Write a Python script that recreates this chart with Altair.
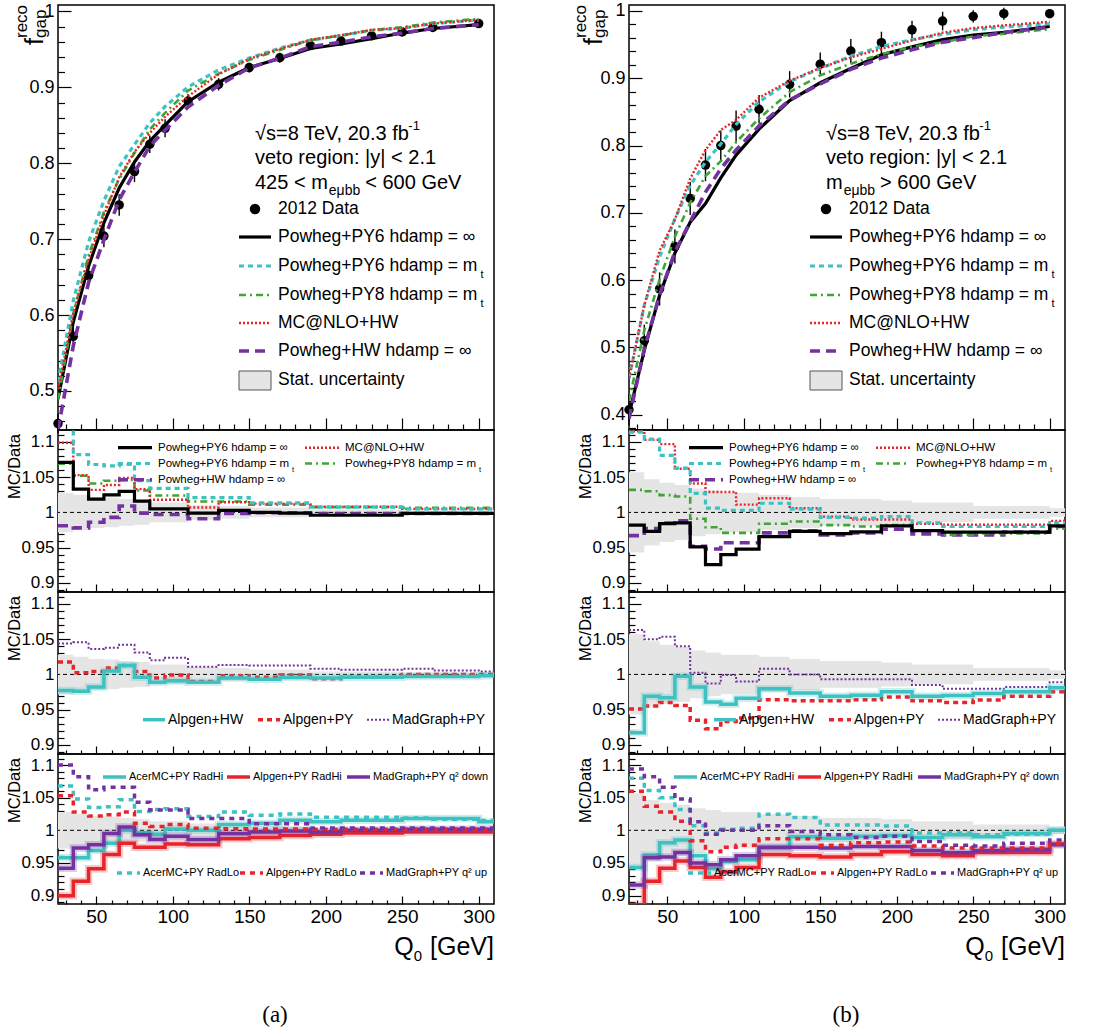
import altair as alt
import pandas as pd

FONT = "Liberation Sans"
SERIF = "Liberation Serif"

# ---------------- data ----------------
Q = [25, 35, 45, 55, 65, 75, 85, 95, 110, 130, 150, 170, 190, 210, 230, 250, 270, 300]
Q_END = 310

# (a) 425 < m_eubb < 600 GeV
data_a = [0.457, 0.572, 0.652, 0.704, 0.745, 0.789, 0.825, 0.846, 0.882, 0.904, 0.926, 0.939, 0.955, 0.961, 0.968, 0.973, 0.979, 0.984]
stat_a = [0.028, 0.025, 0.022, 0.021, 0.019, 0.0175, 0.014, 0.014, 0.0105, 0.009, 0.007, 0.007, 0.004, 0.004, 0.004, 0.003, 0.003, 0.003]
py6_inf_a = [1.071, 1.033, 1.019, 1.025, 1.030, 1.016, 1.005, 1.005, 0.999, 1.003, 1.000, 0.999, 0.996, 0.996, 0.996, 0.9985, 0.9985, 0.9985]
py6_mt_a = [1.12, 1.082, 1.068, 1.066, 1.068, 1.045, 1.034, 1.034, 1.021, 1.021, 1.0135, 1.0135, 1.0075, 1.0075, 1.0075, 1.005, 1.005, 1.005]
py8_mt_a = [1.069, 1.052, 1.041, 1.045, 1.046, 1.031, 1.024, 1.024, 1.0155, 1.0155, 1.011, 1.011, 1.0075, 1.0075, 1.0075, 1.0065, 1.0065, 1.0065]
mcnlo_a = [1.099, 1.053, 1.032, 1.039, 1.049, 1.033, 1.018, 1.018, 1.007, 1.0145, 1.0125, 1.0125, 1.008, 1.008, 1.008, 1.005, 1.005, 1.005]
hw_inf_a = [0.981, 0.978, 0.986, 0.993, 1.009, 0.999, 0.997, 0.997, 0.991, 0.9985, 0.9995, 0.9995, 0.9985, 0.9985, 0.9985, 0.9985, 0.9985, 0.9985]
alp_hw_a = [0.977, 0.976, 0.982, 1.005, 1.0125, 0.996, 0.989, 0.991, 0.989, 0.995, 0.993, 0.9955, 0.995, 0.996, 0.996, 0.997, 0.997, 0.998]
alp_py_a = [1.0175, 1.0025, 1.004, 1.009, 1.0125, 1.004, 0.995, 0.999, 0.990, 0.998, 0.996, 0.999, 0.994, 0.996, 0.996, 1.0, 1.0, 1.0]
mg_py_a = [1.044, 1.0455, 1.036, 1.038, 1.042, 1.031, 1.020, 1.0235, 1.011, 1.0135, 1.0125, 1.0125, 1.008, 1.0065, 1.0065, 1.008, 1.0055, 1.004]
acer_hi_a = [0.958, 0.958, 0.969, 0.980, 1.0, 0.996, 0.994, 1.002, 1.0, 1.009, 1.011, 1.0155, 1.013, 1.0155, 1.0155, 1.018, 1.018, 1.013]
alp_hi_a = [0.8995, 0.922, 0.941, 0.963, 0.980, 0.974, 0.974, 0.979, 0.978, 0.987, 0.989, 0.992, 0.994, 0.996, 0.996, 0.9975, 0.9975, 0.9975]
mg_down_a = [0.942, 0.973, 0.978, 0.995, 1.005, 0.993, 0.986, 0.991, 0.986, 0.995, 0.9975, 0.999, 0.9975, 1.0, 1.0, 1.0015, 1.0015, 1.0015]
acer_lo_a = [1.068, 1.048, 1.035, 1.036, 1.047, 1.029, 1.032, 1.033, 1.021, 1.028, 1.023, 1.025, 1.020, 1.020, 1.020, 1.019, 1.017, 1.015]
alp_lo_a = [1.053, 1.028, 1.022, 1.024, 1.028, 1.011, 1.006, 1.009, 1.003, 1.0025, 1.002, 1.002, 1.0015, 1.0015, 1.0015, 1.0015, 1.0015, 1.0015]
mg_up_a = [1.100, 1.082, 1.062, 1.066, 1.066, 1.043, 1.031, 1.031, 1.018, 1.018, 1.010, 1.010, 1.0036, 1.0036, 1.0036, 1.0036, 1.0036, 1.0036]

# (b) m_eubb > 600 GeV
data_b = [0.4075, 0.510, 0.587, 0.650, 0.7215, 0.771, 0.800, 0.829, 0.854, 0.891, 0.921, 0.9405, 0.953, 0.972, 0.985, 0.992, 0.996, 0.996]
stat_b = [0.057, 0.047, 0.042, 0.039, 0.034, 0.031, 0.028, 0.028, 0.025, 0.022, 0.019, 0.019, 0.017, 0.014, 0.014, 0.009, 0.009, 0.006]
py6_inf_b = [0.982, 0.973, 0.984, 0.985, 0.951, 0.926, 0.940, 0.948, 0.9655, 0.973, 0.970, 0.9725, 0.981, 0.974, 0.972, 0.972, 0.972, 0.981]
py6_mt_b = [1.114, 1.104, 1.081, 1.063, 1.027, 1.006, 1.003, 1.003, 1.013, 1.0045, 0.993, 0.992, 0.994, 0.985, 0.980, 0.980, 0.980, 0.985]
py8_mt_b = [1.032, 1.030, 1.0245, 1.0225, 0.991, 0.979, 0.971, 0.971, 0.984, 0.987, 0.982, 0.980, 0.982, 0.974, 0.968, 0.970, 0.970, 0.977]
mcnlo_b = [1.115, 1.103, 1.097, 1.062, 1.041, 1.029, 1.029, 1.011, 1.020, 1.006, 0.994, 0.990, 0.990, 0.984, 0.9825, 0.9825, 0.9825, 0.988]
hw_inf_b = [0.967, 0.977, 0.985, 0.988, 0.952, 0.948, 0.957, 0.957, 0.971, 0.974, 0.968, 0.971, 0.976, 0.9695, 0.968, 0.968, 0.972, 0.980]
alp_hw_b = [0.917, 0.969, 0.967, 0.9975, 0.982, 0.961, 0.9575, 0.966, 0.9795, 0.9735, 0.969, 0.9705, 0.9755, 0.969, 0.970, 0.973, 0.9755, 0.981]
alp_py_b = [0.951, 0.955, 0.960, 0.956, 0.935, 0.923, 0.933, 0.938, 0.964, 0.9625, 0.9625, 0.964, 0.968, 0.9625, 0.960, 0.9635, 0.969, 0.9755]
mg_py_b = [1.063, 1.050, 1.0535, 1.040, 1.0025, 0.987, 0.999, 0.990, 1.008, 1.0, 0.993, 0.993, 0.993, 0.985, 0.9795, 0.9795, 0.982, 0.989]
acer_hi_b = [0.943, 0.962, 0.981, 0.985, 0.961, 0.941, 0.952, 0.955, 0.973, 0.990, 0.988, 0.991, 0.992, 0.989, 0.993, 0.990, 0.995, 1.0]
alp_hi_b = [0.885, 0.922, 0.942, 0.953, 0.943, 0.928, 0.936, 0.943, 0.963, 0.961, 0.959, 0.963, 0.967, 0.963, 0.961, 0.966, 0.966, 0.979]
mg_down_b = [0.916, 0.958, 0.959, 0.966, 0.950, 0.947, 0.955, 0.961, 0.974, 0.974, 0.973, 0.975, 0.975, 0.969, 0.966, 0.969, 0.971, 0.978]
acer_lo_b = [1.080, 1.061, 1.050, 1.032, 1.007, 0.996, 1.0015, 1.003, 1.0245, 1.0195, 1.008, 1.008, 1.0067, 0.996, 0.996, 0.993, 0.994, 1.0]
alp_lo_b = [1.060, 1.037, 1.028, 1.014, 0.984, 0.967, 0.974, 0.977, 0.987, 0.987, 0.977, 0.981, 0.982, 0.976, 0.973, 0.973, 0.973, 0.979]
mg_up_b = [1.094, 1.082, 1.066, 1.048, 1.013, 0.994, 1.0, 1.0, 1.007, 0.998, 0.993, 0.989, 0.991, 0.983, 0.977, 0.976, 0.98, 0.985]

# tick positions
X_MAJOR = [50, 100, 150, 200, 250, 300]
X_MINOR = [30, 40, 60, 70, 80, 90, 110, 120, 130, 140, 160, 170, 180, 190, 210, 220, 230, 240, 260, 270, 280, 290]
R_MAJOR = [0.9, 0.95, 1.0, 1.05, 1.1]
R_MINOR = [0.89, 0.91, 0.92, 0.93, 0.94, 0.96, 0.97, 0.98, 0.99, 1.01, 1.02, 1.03, 1.04, 1.06, 1.07, 1.08, 1.09, 1.11]
TOP_MAJOR_A = [0.5, 0.6, 0.7, 0.8, 0.9, 1.0]
TOP_MINOR_A = [0.46, 0.48, 0.52, 0.54, 0.56, 0.58, 0.62, 0.64, 0.66, 0.68, 0.72, 0.74, 0.76, 0.78, 0.82, 0.84, 0.86, 0.88, 0.92, 0.94, 0.96, 0.98]
TOP_MAJOR_B = [0.4, 0.5, 0.6, 0.7, 0.8, 0.9, 1.0]
TOP_MINOR_B = [0.38, 0.42, 0.44, 0.46, 0.48] + TOP_MINOR_A[2:]

# ---------------- style ----------------
C_BLACK, C_CYAN, C_GREEN, C_RED, C_PURPLE = "#000000", "#3EC1C1", "#3FA535", "#E8242B", "#7332A0"
BAND = "#E5E5E5"
STY = {
    "py6_inf": dict(color=C_BLACK, dash=None, width=3.2),
    "py6_mt": dict(color=C_CYAN, dash=[5, 4], width=3.2),
    "py8_mt": dict(color=C_GREEN, dash=[7, 4, 2, 4], width=2.6),
    "mcnlo": dict(color=C_RED, dash=[2, 2], width=2.4),
    "hw_inf": dict(color=C_PURPLE, dash=[10, 6], width=3.6),
    "alp_hw": dict(color=C_CYAN, dash=None, width=3.5, halo=True),
    "alp_py": dict(color=C_RED, dash=[5, 4], width=3.5),
    "mg_py": dict(color=C_PURPLE, dash=[2, 2], width=2.0),
    "acer_hi": dict(color=C_CYAN, dash=None, width=3.5, halo=True),
    "alp_hi": dict(color=C_RED, dash=None, width=3.5, halo=True),
    "mg_down": dict(color=C_PURPLE, dash=None, width=3.5, halo=True),
    "acer_lo": dict(color=C_CYAN, dash=[5, 5], width=3.5),
    "alp_lo": dict(color=C_RED, dash=[5, 5], width=3.5),
    "mg_up": dict(color=C_PURPLE, dash=[5, 5], width=3.5),
}

W = 436
H_TOP, H_R1, H_R2, H_R3 = 425, 162, 162, 150
XS = alt.Scale(domain=[25, 310], nice=False, zero=False)
R_DOM = [0.887, 1.117]
DUMMY = pd.DataFrame({"d": [0]})

AW = {" ": .278, "+": .584, "=": .584, "<": .584, ">": .584, "-": .333, ".": .278, ",": .278, ":": .278,
      "|": .26, "@": 1.015, "(": .333, ")": .333, "[": .278, "]": .278, "/": .278, "√": .549, "∞": .713,
      "μ": .576, "²": .333}
for ch in "0123456789":
    AW[ch] = .556
for ch, w in zip("ABCDEFGHIJKLMNOPQRSTUVWXYZ", [.667, .667, .722, .722, .667, .611, .778, .722, .278, .5, .667, .556, .833, .722, .778, .667, .778, .722, .667, .611, .722, .667, .944, .667, .667, .611]):
    AW[ch] = w
for ch, w in zip("abcdefghijklmnopqrstuvwxyz", [.556, .556, .5, .556, .556, .278, .556, .556, .222, .222, .5, .222, .833, .556, .556, .556, .556, .333, .5, .278, .556, .5, .722, .5, .5, .5]):
    AW[ch] = w


def tw(s, size):
    return sum(AW.get(c, .556) for c in s) * size


def text(s, x, y, size, align="left", baseline="middle", font=FONT, angle=None):
    kw = dict(text=s, font=font, fontSize=size, align=align, baseline=baseline, color="black")
    if angle is not None:
        kw["angle"] = angle
    return alt.Chart(DUMMY).mark_text(**kw).encode(x=alt.value(x), y=alt.value(y))


def sample(key, x1, x2, y, width=None):
    s = STY[key]
    kw = dict(color=s["color"], strokeWidth=width or s["width"])
    if s["dash"]:
        kw["strokeDash"] = s["dash"]
    return alt.Chart(DUMMY).mark_rule(**kw).encode(x=alt.value(x1), x2=alt.value(x2), y=alt.value(y))


def label_with_sub(main, sub, x, y, size, sub_size, sub_dy, gap=2):
    out = [text(main, x, y, size)]
    if sub:
        out.append(text(sub, x + tw(main, size) + gap, y + sub_dy, sub_size))
    return out


def axis(orient, values, size, labels=False, fsize=18, pad=4):
    # inward ticks: shift the axis line inside by the tick length
    kw = dict(orient=orient, values=values, tickSize=size, offset=-size, domain=False, grid=False,
              title=None, tickColor="black", tickWidth=1.2, labels=labels)
    if labels:
        kw.update(format="~r", labelFont=FONT, labelFontSize=fsize, labelPadding=pad, labelColor="black",
                  labelOverlap=False, labelFlush=False, labelBound=False)
    return alt.Axis(**kw)


def axis_layers(df, fld, ysc, ymaj, ymin, ymaj_len, ymin_len, xmaj_len, xmin_len, xlabels, yfsize):
    major = alt.Chart(df).mark_point(opacity=0).encode(
        x=alt.X("q:Q", scale=XS, axis=axis("bottom", X_MAJOR, xmaj_len, xlabels, 19, 3)),
        y=alt.Y(f"{fld}:Q", scale=ysc, axis=axis("left", ymaj, ymaj_len, True, yfsize, 4)))
    minor = alt.Chart(df).mark_point(opacity=0).encode(
        x=alt.X("q:Q", scale=XS, axis=axis("bottom", X_MINOR, xmin_len)),
        y=alt.Y(f"{fld}:Q", scale=ysc, axis=axis("left", ymin, ymin_len)))
    return [major, minor]


def line_layer(df, field, ysc, key, interp=None, halo=False):
    s = STY[key]
    kw = dict(color=s["color"], strokeWidth=s["width"], clip=True)
    if halo:
        kw["strokeWidth"] = s["width"] + 4
        kw["opacity"] = 0.25
    elif s["dash"]:
        kw["strokeDash"] = s["dash"]
    if interp:
        kw["interpolate"] = interp
    return alt.Chart(df).mark_line(**kw).encode(
        x=alt.X("q:Q", scale=XS, axis=None),
        y=alt.Y(f"{field}:Q", scale=ysc, axis=None))


def step_df(vals):
    return pd.DataFrame({"q": Q + [Q_END], "r": list(vals) + [vals[-1]]})


def top_panel(data, stat, ratios, ydom, ymaj, ymin, info3, title_dx):
    ysc = alt.Scale(domain=ydom, nice=False, zero=False)
    dfp = pd.DataFrame({"q": Q, "v": data,
                        "lo": [d * (1 - s) for d, s in zip(data, stat)],
                        "hi": [d * (1 + s) for d, s in zip(data, stat)]})
    layers = axis_layers(dfp, "v", ysc, ymaj, ymin, 13, 6.5, 12, 6, False, 18)
    layers += [
        alt.Chart(dfp).mark_rule(color="black", strokeWidth=1.4).encode(
            x=alt.X("q:Q", scale=XS, axis=None), y=alt.Y("lo:Q", scale=ysc, axis=None), y2="hi:Q"),
        alt.Chart(dfp).mark_circle(color="black", size=90, opacity=1).encode(
            x=alt.X("q:Q", scale=XS, axis=None), y=alt.Y("v:Q", scale=ysc, axis=None)),
    ]
    for key in ["py6_inf", "py6_mt", "py8_mt", "mcnlo", "hw_inf"]:
        df = pd.DataFrame({"q": Q, "v": [d * r for d, r in zip(data, ratios[key])]})
        layers.append(line_layer(df, "v", ysc, key))
    # info text
    x0 = 197
    l1 = "√s=8 TeV, 20.3 fb"
    layers.append(text(l1, x0, 129, 20))
    layers.append(text("-1", x0 + tw(l1, 20) - 5, 121, 13))
    layers.append(text("veto region: |y| < 2.1", x0, 153, 20))
    pre, sub, post = info3
    layers.append(text(pre, x0, 178, 20))
    xx = x0 + tw(pre, 20) + 1
    layers.append(text(sub, xx, 186, 14))
    xx += tw(sub, 14) + 5
    layers.append(text(post, xx, 178, 20))
    # legend
    layers.append(alt.Chart(DUMMY).mark_circle(color="black", size=110, opacity=1).encode(
        x=alt.value(197), y=alt.value(204)))
    layers.append(text("2012 Data", 220, 204, 17.5))
    entries = [("py6_inf", "Powheg+PY6 hdamp = ∞", None), ("py6_mt", "Powheg+PY6 hdamp = m", "t"),
               ("py8_mt", "Powheg+PY8 hdamp = m", "t"), ("mcnlo", "MC@NLO+HW", None),
               ("hw_inf", "Powheg+HW hdamp = ∞", None)]
    for (key, lab, sb), y in zip(entries, [232, 261, 290, 318, 346]):
        layers.append(sample(key, 181, 213, y))
        layers += label_with_sub(lab, sb, 220, y, 17.5, 11, 9, 3)
    layers.append(alt.Chart(DUMMY).mark_rect(fill=BAND, stroke="#555555", strokeWidth=1).encode(
        x=alt.value(181), x2=alt.value(213), y=alt.value(366), y2=alt.value(385)))
    layers.append(text("Stat. uncertainty", 220, 375, 17.5))
    # y title f^reco_gap
    layers.append(text("f", -15 + title_dx, 40, 25, baseline="alphabetic", angle=270))
    layers.append(text("gap", -12 + title_dx, 33, 17, baseline="alphabetic", angle=270))
    layers.append(text("reco", -31 + title_dx, 33, 17, baseline="alphabetic", angle=270))
    return alt.layer(*layers).resolve_axis(x="independent", y="independent").properties(width=W, height=H_TOP)


def ratio_panel(h, stat, series, extra, bottom=False):
    ysc = alt.Scale(domain=R_DOM, nice=False, zero=False)
    band_df = pd.DataFrame({"q": Q + [Q_END], "lo": [1 - s for s in stat] + [1 - stat[-1]],
                            "hi": [1 + s for s in stat] + [1 + stat[-1]]})
    layers = [
        alt.Chart(band_df).mark_area(interpolate="step-after", color=BAND, opacity=1).encode(
            x=alt.X("q:Q", scale=XS, axis=None), y=alt.Y("lo:Q", scale=ysc, axis=None), y2="hi:Q"),
        alt.Chart(pd.DataFrame({"one": [1.0]})).mark_rule(color="black", strokeDash=[4, 3], strokeWidth=1).encode(
            y=alt.Y("one:Q", scale=ysc, axis=None)),
    ]
    for key, vals in series:
        df = step_df(vals)
        if STY[key].get("halo"):
            layers.append(line_layer(df, "r", ysc, key, "step-after", halo=True))
        layers.append(line_layer(df, "r", ysc, key, "step-after"))
    layers += axis_layers(band_df, "lo", ysc, R_MAJOR, R_MINOR, 12, 6, 8, 4, bottom, 17)
    layers += extra
    layers.append(text("MC/Data", -43, 4, 16.5, align="right", angle=270))
    return alt.layer(*layers).resolve_axis(x="independent", y="independent").properties(width=W, height=h)


def legend_r1():
    out = []
    grid = [("py6_inf", "Powheg+PY6 hdamp = ∞", None, 60, 17.7), ("mcnlo", "MC@NLO+HW", None, 247, 17.7),
            ("py6_mt", "Powheg+PY6 hdamp = m", "t", 60, 33.5), ("py8_mt", "Powheg+PY8 hdamp = m", "t", 247, 33.5),
            ("hw_inf", "Powheg+HW hdamp = ∞", None, 60, 49.7)]
    for key, lab, sb, x, y in grid:
        out.append(sample(key, x, x + 34, y))
        out += label_with_sub(lab, sb, x + 40, y, 11.5, 7.5, 6, 3)
    return out


def legend_r2():
    out = []
    for key, lab, x in [("alp_hw", "Alpgen+HW", 85), ("alp_py", "Alpgen+PY", 200), ("mg_py", "MadGraph+PY", 309)]:
        out.append(sample(key, x, x + 22, 127.7))
        out.append(text(lab, x + 25, 127.7, 14))
    return out


def legend_r3():
    out = []
    rows = [[("acer_hi", "AcerMC+PY RadHi", 45), ("alp_hi", "Alpgen+PY RadHi", 169), ("mg_down", "MadGraph+PY q² down", 289)],
            [("acer_lo", "AcerMC+PY RadLo", 59), ("alp_lo", "Alpgen+PY RadLo", 182), ("mg_up", "MadGraph+PY q² up", 302)]]
    for row, y in zip(rows, [23, 119]):
        for key, lab, x in row:
            out.append(sample(key, x, x + 23, y))
            out.append(text(lab, x + 26, y, 11))
    return out


def qaxis_title(caption):
    xr = W
    yb = H_R3 + 51
    out = [text("[GeV]", xr, yb, 25, align="right", baseline="alphabetic")]
    x_sub = xr - tw("[GeV]", 25) - 8
    out.append(text("0", x_sub, yb + 6, 15, align="right", baseline="alphabetic"))
    out.append(text("Q", x_sub - tw("0", 15), yb, 25, align="right", baseline="alphabetic"))
    out.append(text(caption, 217, H_R3 + 111, 23, align="center", font=SERIF))
    return out


def column(data, stat, d, ydom, ymaj, ymin, info3, caption, title_dx):
    top = top_panel(data, stat, d, ydom, ymaj, ymin, info3, title_dx)
    r1 = ratio_panel(H_R1, stat, [(k, d[k]) for k in ["hw_inf", "py8_mt", "mcnlo", "py6_mt", "py6_inf"]], legend_r1())
    r2 = ratio_panel(H_R2, stat, [(k, d[k]) for k in ["mg_py", "alp_py", "alp_hw"]], legend_r2())
    r3 = ratio_panel(H_R3, stat, [(k, d[k]) for k in ["acer_hi", "alp_hi", "mg_down", "acer_lo", "alp_lo", "mg_up"]],
                     legend_r3() + qaxis_title(caption), bottom=True)
    return alt.vconcat(top, r1, r2, r3, spacing=0, bounds="flush")


dict_a = dict(py6_inf=py6_inf_a, py6_mt=py6_mt_a, py8_mt=py8_mt_a, mcnlo=mcnlo_a, hw_inf=hw_inf_a,
              alp_hw=alp_hw_a, alp_py=alp_py_a, mg_py=mg_py_a, acer_hi=acer_hi_a, alp_hi=alp_hi_a,
              mg_down=mg_down_a, acer_lo=acer_lo_a, alp_lo=alp_lo_a, mg_up=mg_up_a)
dict_b = dict(py6_inf=py6_inf_b, py6_mt=py6_mt_b, py8_mt=py8_mt_b, mcnlo=mcnlo_b, hw_inf=hw_inf_b,
              alp_hw=alp_hw_b, alp_py=alp_py_b, mg_py=mg_py_b, acer_hi=acer_hi_b, alp_hi=alp_hi_b,
              mg_down=mg_down_b, acer_lo=acer_lo_b, alp_lo=alp_lo_b, mg_up=mg_up_b)

left = column(data_a, stat_a, dict_a, [0.4485, 1.0085], TOP_MAJOR_A, TOP_MINOR_A,
              ("425 < m", "eμbb", "< 600 GeV"), "(a)", 0)
right = column(data_b, stat_b, dict_b, [0.3774, 1.0089], TOP_MAJOR_B, TOP_MINOR_B,
               ("m", "eμbb", "> 600 GeV"), "(b)", -12)

chart = alt.hconcat(left, right, spacing=73).properties(
    padding={"left": 6, "top": 1, "right": 5, "bottom": 5}
).configure(background="white").configure_view(stroke="black", strokeWidth=1.5)

chart.save("out.html", embed_options={"renderer": "svg", "actions": False})
